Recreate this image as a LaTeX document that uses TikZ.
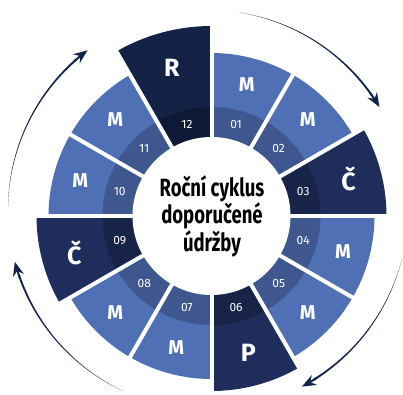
\documentclass[tikz,border=0pt]{standalone}
\usepackage{fontspec}
\setmainfont{Fira Sans}
\newfontfamily\titlefont[FakeStretch=0.74]{Fira Sans}
\usetikzlibrary{arrows.meta}
\definecolor{segM}{HTML}{5070B6}
\definecolor{segD}{HTML}{1E2D5B}
\definecolor{segR}{HTML}{132245}
\definecolor{arrowcol}{HTML}{14234B}

\begin{document}
\begin{tikzpicture}[x=1pt, y=1pt,
	letterM/.style={text=white, font=\bfseries\fontsize{20}{20}\selectfont},
	letterD/.style={text=white, font=\bfseries\fontsize{25}{25}\selectfont},
	month/.style={text=white, font=\fontsize{12}{12}\selectfont},
	title/.style={align=center, font=\titlefont\bfseries\fontsize{25}{25.5}\selectfont}]
\useasboundingbox (-211.5,-178) rectangle (191.5,216);
% segments
\foreach \n/\lbl/\col/\r/\lr/\st [count=\i] in {01/M/segM/163/136/letterM, 02/M/segM/163/136/letterM, 03/Č/segD/175/142/letterD, 04/M/segM/163/136/letterM, 05/M/segM/163/136/letterM, 06/P/segD/175/142/letterD, 07/M/segM/163/136/letterM, 08/M/segM/163/136/letterM, 09/Č/segD/175/142/letterD, 10/M/segM/163/136/letterM, 11/M/segM/163/136/letterM, 12/R/segR/190/153/letterD} {
	\pgfmathsetmacro{\s}{90-30*(\i-1)}
	\fill[\col] (0,0) -- (\s:\r) arc[start angle=\s, end angle=\s-30, radius=\r pt] -- cycle;
}
% month band, gaps, centre
\fill[black, opacity=0.22] (0,0) circle[radius=109pt];
\foreach \a in {0,30,...,330}
	\draw[white, line width=4pt] (0,0) -- (\a:200);
\fill[white] (0,0) circle[radius=79pt];
% labels
\foreach \n/\lbl/\col/\r/\lr/\st [count=\i] in {01/M/segM/163/136/letterM, 02/M/segM/163/136/letterM, 03/Č/segD/175/142/letterD, 04/M/segM/163/136/letterM, 05/M/segM/163/136/letterM, 06/P/segD/175/142/letterD, 07/M/segM/163/136/letterM, 08/M/segM/163/136/letterM, 09/Č/segD/175/142/letterD, 10/M/segM/163/136/letterM, 11/M/segM/163/136/letterM, 12/R/segR/190/153/letterD} {
	\pgfmathsetmacro{\s}{90-30*(\i-1)}
	\node[\st] (lab\n) at (\s-15:\lr) {\lbl};
	\node[month] (num\n) at (\s-15:95) {\n};
}
\node[title] (title) at (0.5,0) {Roční cyklus\\doporučené\\údržby};
% arrows round the wheel
\begin{scope}[shift={(-3.5,6)}]
\foreach \a/\b in {81/31, -14/-62, 245/195, 179/127} {
	\pgfmathsetmacro{\e}{\b+4}
	\pgfmathsetmacro{\h}{\b+5}
	\fill[arrowcol] plot[domain=\a:\e, samples=30] (\x:{200+1.1*(\x-\a)/(\b-\a)}) -- plot[domain=\e:\a, samples=30] (\x:{200-1.1*(\x-\a)/(\b-\a)}) -- cycle;
	\draw[arrowcol, line width=2pt, -{Stealth[length=14pt, width=11pt]}] (\h:200) arc[start angle=\h, end angle=\b, radius=200pt];
}
\end{scope}
\end{tikzpicture}
\end{document}
